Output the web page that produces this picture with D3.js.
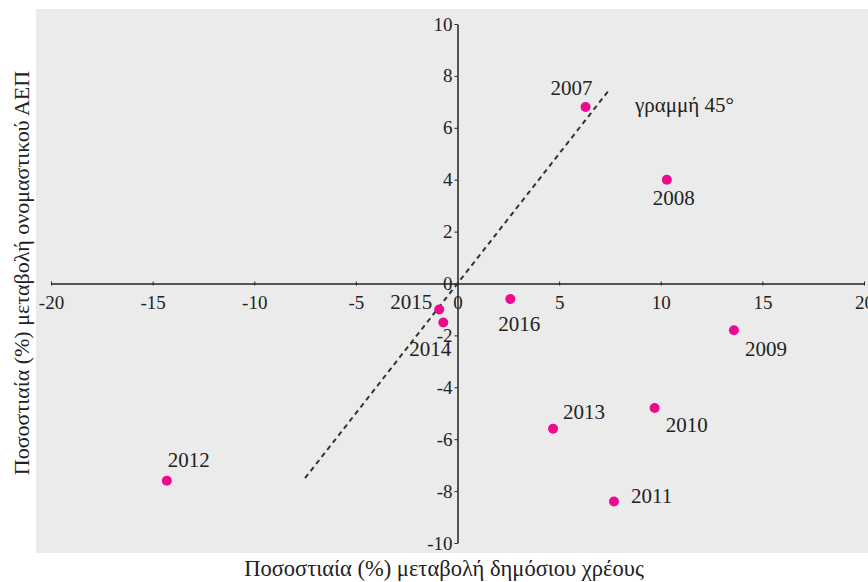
<!DOCTYPE html>
<html>
<head>
<meta charset="utf-8">
<script src="https://cdn.jsdelivr.net/npm/d3@7"></script>
<style>
  body { margin: 0; background: #fff; }
  text { font-family: "Liberation Serif", "DejaVu Serif", serif; fill: #222; }
</style>
</head>
<body>
<div class="chart"></div>
<script>
// data
let years = ['2007', '2008', '2009', '2010', '2011', '2012', '2013', '2014', '2015', '2016']
let debtChange = [6.3, 10.3, 13.6, 9.7, 7.7, -14.3, 4.7, -0.7, -0.9, 2.6]
let gdpChange = [6.8, 4.0, -1.8, -4.8, -8.4, -7.6, -5.6, -1.5, -1.0, -0.6]
let xTicks = [-20, -15, -10, -5, 0, 5, 10, 15, 20]
let yTicks = [-10, -8, -6, -4, -2, 0, 2, 4, 6, 8, 10]
let line45 = [-7.5, 7.5]

let W = 868, H = 582

// label placement per year: [dx, dy, anchor]
let labelPos = {
    '2007': [7, -12, 'end'],
    '2008': [-14, 25, 'start'],
    '2009': [11, 26, 'start'],
    '2010': [11, 24, 'start'],
    '2011': [17, 2, 'start'],
    '2012': [1, -14, 'start'],
    '2013': [10, -10, 'start'],
    '2014': [8, 34, 'end'],
    '2015': [-7, 0, 'end'],
    '2016': [-12, 32, 'start']
}

let svg = d3.select('.chart').append('svg').attr('width', W).attr('height', H)

svg.append('rect')
    .attr('x', 36).attr('y', 9)
    .attr('width', W - 36).attr('height', 544)
    .attr('fill', '#ebebeb')

let x = d3.scaleLinear().domain([-20, 20]).range([51, 864])
let y = d3.scaleLinear().domain([-10, 10]).range([543, 24])

// x axis
let gx = svg.append('g')
    .attr('transform', 'translate(0,' + y(0) + ')')
    .call(d3.axisBottom(x).tickValues(xTicks).tickSize(3).tickSizeOuter(0).tickFormat(d3.format('')))
gx.select('.domain').attr('stroke', '#222').attr('stroke-width', 1.5)
gx.selectAll('.tick line').attr('stroke', '#222').attr('y1', -2).attr('y2', 2)
gx.selectAll('.tick text')
    .attr('y', 12)
    .style('font-size', '19px')
    .style('font-family', '"Liberation Serif", serif')
    .attr('fill', '#222')
    .text(d => d < 0 ? '-' + Math.abs(d) : d)

// y axis
let gy = svg.append('g')
    .attr('transform', 'translate(' + x(0) + ',0)')
    .call(d3.axisLeft(y).tickValues(yTicks).tickSize(3).tickSizeOuter(0))
gy.select('.domain').attr('stroke', '#222').attr('stroke-width', 1.5)
gy.selectAll('.tick line').attr('stroke', '#222')
gy.selectAll('.tick text')
    .attr('x', -5)
    .style('font-size', '19px')
    .style('font-family', '"Liberation Serif", serif')
    .attr('fill', '#222')
    .text(d => d < 0 ? '-' + Math.abs(d) : d)

// 45 degree line
svg.append('line')
    .attr('x1', x(line45[0])).attr('y1', y(line45[0]))
    .attr('x2', x(line45[1])).attr('y2', y(line45[1]))
    .attr('stroke', '#333')
    .attr('stroke-width', 2)
    .attr('stroke-dasharray', '5,4')

svg.append('text').text('γραμμή 45°')
    .attr('x', 635).attr('y', 112)
    .attr('font-size', '21px')

// points
svg.selectAll('.pt').data(years).enter().append('circle')
    .attr('class', 'pt')
    .attr('cx', (d, i) => x(debtChange[i]))
    .attr('cy', (d, i) => y(gdpChange[i]))
    .attr('r', 5)
    .attr('fill', '#ee0a8c')

svg.selectAll('.lbl').data(years).enter().append('text')
    .attr('class', 'lbl')
    .attr('x', (d, i) => x(debtChange[i]) + labelPos[d][0])
    .attr('y', (d, i) => y(gdpChange[i]) + labelPos[d][1])
    .attr('text-anchor', d => labelPos[d][2])
    .attr('font-size', '21px')
    .text(d => d)

// axis titles
svg.append('text').text('Ποσοστιαία (%) μεταβολή δημόσιου χρέους')
    .attr('x', 444).attr('y', 576)
    .attr('text-anchor', 'middle')
    .attr('font-size', '22.5px')

svg.append('text').text('Ποσοστιαία (%) μεταβολή ονομαστικού ΑΕΠ')
    .attr('transform', 'translate(29,273) rotate(-90)')
    .attr('text-anchor', 'middle')
    .attr('font-size', '22px')
</script>
</body>
</html>
